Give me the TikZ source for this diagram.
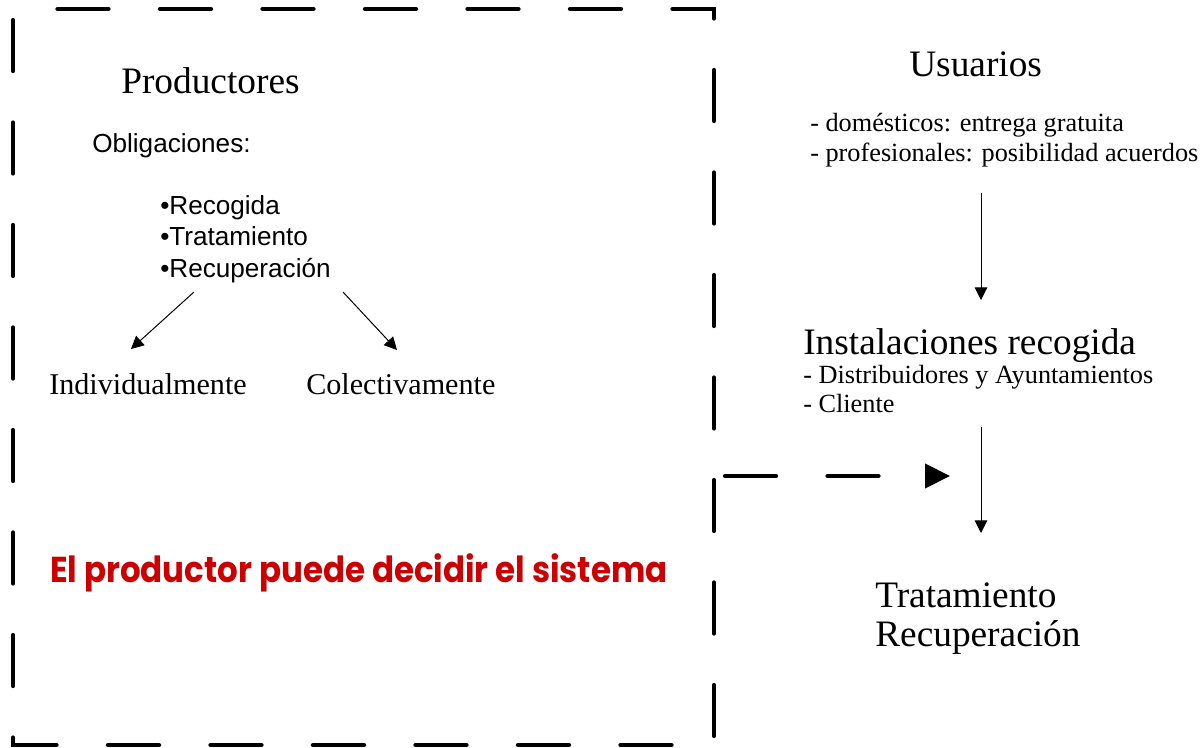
\documentclass[tikz,border=0pt]{standalone}
\usepackage{graphicx}
\usepackage{fontspec}
\setmainfont{Liberation Serif}
\newfontfamily\arialfont{Liberation Sans}
\newfontfamily\comicfont{Poppins}
\usetikzlibrary{arrows.meta,calc}
\definecolor{rojo}{RGB}{204,0,0}

\begin{document}
\begin{tikzpicture}[x=0.75pt,y=-0.75pt,
	txt/.style={inner sep=0pt,anchor=base west},
	big/.style={txt,font=\fontsize{28}{28}\selectfont},
	mid/.style={txt,font=\fontsize{22.6}{22.6}\selectfont},
	small/.style={txt,font=\fontsize{19.7}{19.7}\selectfont},
	sans/.style={txt,font=\arialfont\fontsize{19.6}{19.6}\selectfont},
	arr/.style={-{Triangle[length=9.5pt,width=9.5pt]},line width=0.75pt},
	frame/.style={line width=3.2pt,line cap=round,dash pattern=on 38.25pt off 38.625pt}]
	\useasboundingbox (0,0) rectangle (1201,748);
	% caja del productor
	\draw[frame,dash phase=68.625pt] (13,9) -- (13,745) -- (714,745) -- (714,9) -- cycle;
	\node[big] (prod) at (121,94) {Productores};
	\node[sans] (oblig) at (92,153) {Obligaciones:};
	\node[sans] (recog) at (160,215) {•Recogida};
	\node[sans] (trat) at (160,246) {•Tratamiento};
	\node[sans] (recup) at (160,277) {•Recuperación};
	\node[mid] (indiv) at (49,394) {Individualmente}; \node[mid] (colec) at (306,394) {Colectivamente};
	\node[txt,text=rojo] (decide) at (50,582) {\resizebox{463pt}{\height}{\comicfont\bfseries\fontsize{27}{27}\selectfont El productor puede decidir el sistema}};
	\draw[arr] ($(recup.base west)+(34,15)$) -- ($(indiv.base west)+(82,-45)$);
	\draw[arr] ($(recup.base west)+(183,15)$) -- ($(colec.base west)+(91,-44)$);
	% usuarios y recogida
	\node[big] (usu) at (909,77) {Usuarios};
	\node[small] (dom) at (810,132) {- domésticos: entrega gratuita};
	\node[small] (prof) at (810,162) {- profesionales: posibilidad acuerdos};
	\node[big] (inst) at (803,354) {Instalaciones recogida};
	\node[small] (dist) at (803,383) {- Distribuidores y Ayuntamientos};
	\node[small] (clie) at (803,412) {- Cliente};
	\node[big] (tratR) at (875,607) {Tratamiento};
	\node[big] (recR) at (875,646) {Recuperación};
	\draw[arr] ($(prof.base west)+(171,31)$) -- ($(inst.base west)+(178,-54)$);
	\draw[arr] ($(clie.base west)+(178,15)$) -- ($(tratR.base west)+(106,-74)$);
	% flecha discontinua
	\coordinate (sal) at (725,476); \coordinate (lleg) at (950,476);
	\draw[frame,-{Triangle[length=18.75pt,width=18pt]}] (sal) -- (lleg);
\end{tikzpicture}
\end{document}
